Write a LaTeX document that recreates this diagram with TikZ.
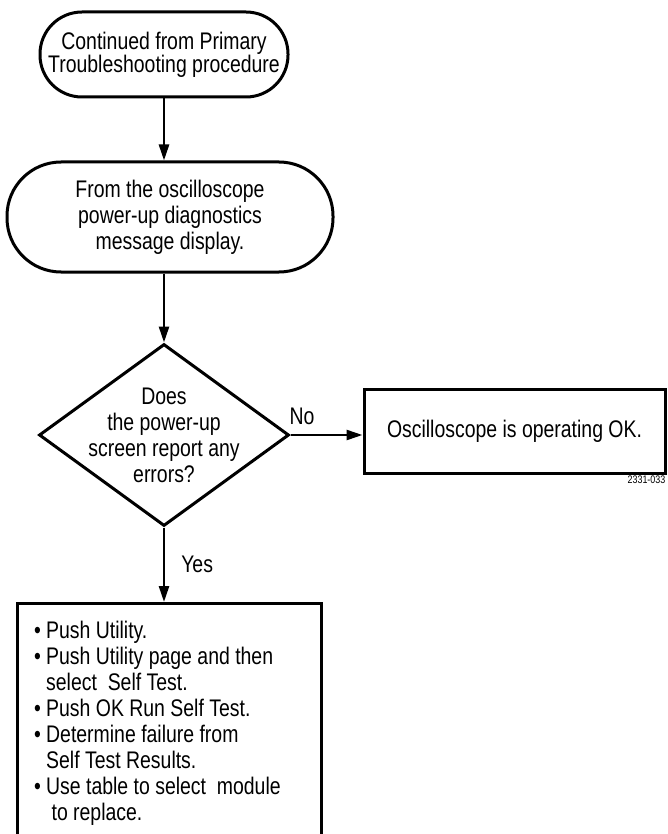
\documentclass[tikz,border=0pt]{standalone}
\usepackage{fontspec}
\setmainfont[FakeStretch=0.81]{Liberation Sans}
\usetikzlibrary{shapes.geometric, arrows.meta}

\newcommand{\bulletgap}{\phantom{•\ }}

\tikzset{
    terminal/.style={draw, rectangle, line width=3pt, align=center},
    decision/.style={draw, diamond, line width=3pt, align=center, aspect=1.374,
        inner sep=-14pt, minimum width=250, minimum height=182},
    process/.style={draw, rectangle, line width=3pt},
    flow/.style={line width=2.5pt, -{Triangle[length=16pt, width=10pt]}},
    branch/.style={font=\fontsize{24}{26}\selectfont, inner sep=4pt}
}

\begin{document}
\begin{tikzpicture}[x=1pt, y=-1pt, every node/.style={font=\fontsize{24}{26}\selectfont}]
    \useasboundingbox (0,0) rectangle (667,834);

    % Start and entry point
    \node[terminal, minimum width=248, minimum height=85, rounded corners=42,
        font=\fontsize{24}{21}\selectfont] (start) at (164,54.5)
        {Continued from Primary\\Troubleshooting procedure};
    \node[terminal, minimum width=326, minimum height=110, rounded corners=54] (display) at (170,217)
        {From the oscilloscope\\power-up diagnostics\\message display.};

    % Decision
    \node[decision] (check) at (164,435)
        {Does\\the power-up\\screen report any\\errors?};

    % Outcomes
    \node[process, minimum width=301, minimum height=84] (ok) at (514.5,431)
        {Oscilloscope is operating OK.};
    \node[anchor=north east, inner sep=1pt, font=\fontsize{11}{13}\selectfont] (figid) at (ok.south east) {2331-033};

    \node[process, anchor=north, minimum width=304, minimum height=240, inner xsep=17pt,
        text width=270, align=flush left] (steps) at (169,602)
        {• Push Utility.\\
         • Push Utility page and then\\
         \bulletgap select\ \ Self Test.\\
         • Push OK Run Self Test.\\
         • Determine failure from\\
         \bulletgap Self Test Results.\\
         • Use table to select\ \ module\\
         \bulletgap\ to replace.};

    % Connectors
    \draw[flow] (start.south) -- (start.south |- display.north);
    \draw[flow] (display.south -| check.north) -- (check.north);
    \draw[flow] (check.east) -- node[branch, pos=0.16, above=5pt] {No} (check.east -| ok.west);
    \draw[flow] (check.south) -- node[branch, pos=0.5, right=12pt] {Yes} (check.south |- steps.north);
\end{tikzpicture}
\end{document}
